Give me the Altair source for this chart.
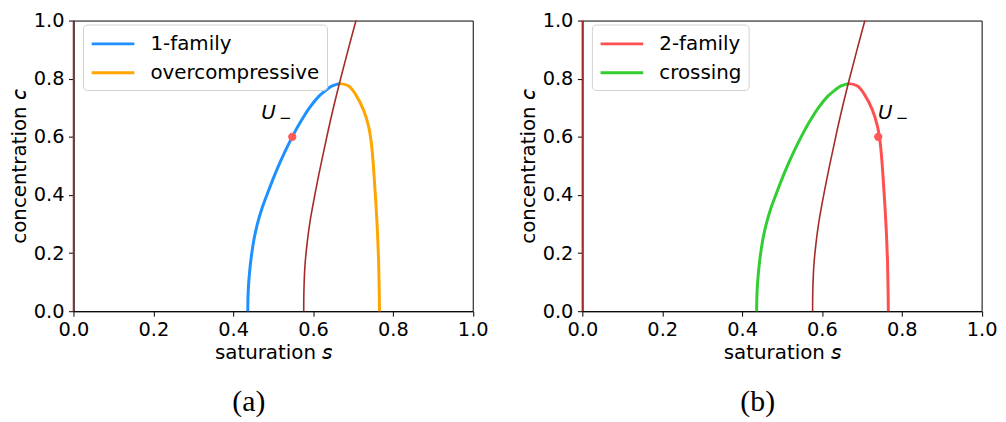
import altair as alt
import pandas as pd

# ---- data ----
# left branch of the curve (1-family in (a), crossing in (b))
s_left = [0.4366, 0.4371, 0.4390, 0.4422, 0.4466, 0.4525, 0.4605, 0.4712, 0.4845, 0.4985, 0.5135,
          0.5300, 0.548, 0.568, 0.591, 0.615, 0.632, 0.648, 0.666]
c_left = [0.0, 0.05, 0.10, 0.15, 0.20, 0.25, 0.30, 0.35, 0.40, 0.45, 0.50,
          0.55, 0.60, 0.65, 0.70, 0.74, 0.76, 0.775, 0.783]

# right branch (overcompressive in (a), 2-family in (b))
s_right = [0.666, 0.689, 0.706, 0.7266, 0.739, 0.7457, 0.7497, 0.7556, 0.7606, 0.764, 0.7655, 0.7664]
c_right = [0.783, 0.775, 0.747, 0.692, 0.637, 0.582, 0.526, 0.410, 0.294, 0.183, 0.090, 0.0]

# brown curve
s_brown = [0.5767, 0.5769, 0.5778, 0.5795, 0.5825, 0.5915, 0.6045, 0.619, 0.6345, 0.651, 0.669, 0.688, 0.7076]
c_brown = [0.0, 0.05, 0.10, 0.15, 0.20, 0.30, 0.40, 0.50, 0.60, 0.70, 0.80, 0.90, 1.0]

# brown segment along s = 0
s_edge = [0.0, 0.0]
c_edge = [0.0, 1.0]

u_a = [0.548, 0.600]
u_b = [0.741, 0.600]

x_ticks = [0.0, 0.2, 0.4, 0.6, 0.8, 1.0]
y_ticks = [0.0, 0.2, 0.4, 0.6, 0.8, 1.0]

FONT = "DejaVu Sans"
BROWN = "#a52a2a"
DOT = "#ff5858"


def curve_frame(left_name, right_name):
    rows = []
    for i, (s, c) in enumerate(zip(s_left, c_left)):
        rows.append({"s": s, "c": c, "series": left_name, "o": i})
    for i, (s, c) in enumerate(zip(s_right, c_right)):
        rows.append({"s": s, "c": c, "series": right_name, "o": i})
    return pd.DataFrame(rows)


def panel(left_name, right_name, legend_order, legend_colors, u, u_dx, dash_dx, caption):
    xs = alt.Scale(domain=[0, 1], nice=False, zero=False)
    ys = alt.Scale(domain=[0, 1], nice=False, zero=False)
    xenc = alt.X("s:Q", scale=xs, axis=alt.Axis(values=x_ticks, format=".1f", title="saturation 𝘴"))
    yenc = alt.Y("c:Q", scale=ys, axis=alt.Axis(values=y_ticks, format=".1f", title="concentration 𝘤"))

    curves = alt.Chart(curve_frame(left_name, right_name)).mark_line(
        strokeWidth=3, interpolate="catmull-rom"
    ).encode(
        x=xenc, y=yenc,
        color=alt.Color(
            "series:N",
            scale=alt.Scale(domain=legend_order, range=legend_colors),
            legend=alt.Legend(
                title=None, orient="none", legendX=9.6, legendY=4,
                fillColor="rgba(255,255,255,0.8)", strokeColor="#d0d0d0", cornerRadius=4, padding=7,
                symbolType="M-1,0H3", symbolSize=462, symbolStrokeWidth=3,
                labelOffset=36, rowPadding=6, labelFont=FONT, labelFontSize=20,
                labelColor="black", labelLimit=400, zindex=2,
            ),
        ),
        detail="series:N",
        order="o:Q",
    )

    brown = alt.Chart(pd.DataFrame({"s": s_brown, "c": c_brown, "o": list(range(len(s_brown)))})).mark_line(
        color=BROWN, strokeWidth=1.6, interpolate="catmull-rom"
    ).encode(x="s:Q", y="c:Q", order="o:Q")

    edge = alt.Chart(pd.DataFrame({"s": s_edge, "c": c_edge})).mark_line(
        color=BROWN, strokeWidth=1.5
    ).encode(x="s:Q", y="c:Q")

    pt = pd.DataFrame({"s": [u[0]], "c": [u[1]]})
    dot = alt.Chart(pt).mark_circle(size=70, color=DOT, opacity=1).encode(x="s:Q", y="c:Q")
    u_txt = alt.Chart(pt).mark_text(
        text="U", font=FONT, fontSize=20, fontStyle="italic", color="black",
        align="center", baseline="alphabetic", dx=u_dx, dy=-18
    ).encode(x="s:Q", y="c:Q")
    dash_txt = alt.Chart(pt).mark_text(
        text="−", font=FONT, fontSize=15, color="black",
        align="center", baseline="middle", dx=dash_dx, dy=-19
    ).encode(x="s:Q", y="c:Q")

    return alt.layer(edge, curves, brown, dot, u_txt, dash_txt).properties(
        width=402.5, height=293,
        title=alt.TitleParams(
            caption, orient="bottom", font="Liberation Serif", fontSize=30,
            fontWeight="normal", anchor="middle", frame="bounds", offset=25, color="black",
        ),
    )


pa = panel("1-family", "overcompressive", ["1-family", "overcompressive"], ["#1e90ff", "#ffa500"],
           u_a, -24, -7, "(a)")
pb = panel("crossing", "2-family", ["2-family", "crossing"], ["#ff5050", "#32cd32"],
           u_b, 7, 24, "(b)")

chart = alt.hconcat(pa, pb, spacing=28).resolve_scale(color="independent").configure_view(
    stroke="black", strokeWidth=1
).configure_axis(
    labelFont=FONT, labelFontSize=19.5, labelColor="black",
    titleFont=FONT, titleFontSize=20, titleFontWeight="normal", titleColor="black",
    domainColor="black", tickColor="black", tickSize=5, labelPadding=4.5, titlePadding=4,
    grid=False, labelFlush=False, zindex=1,
).properties(padding={"left": 0, "top": 0, "right": 0, "bottom": 0})

chart.save("out.html", embed_options={"renderer": "svg", "actions": False})
